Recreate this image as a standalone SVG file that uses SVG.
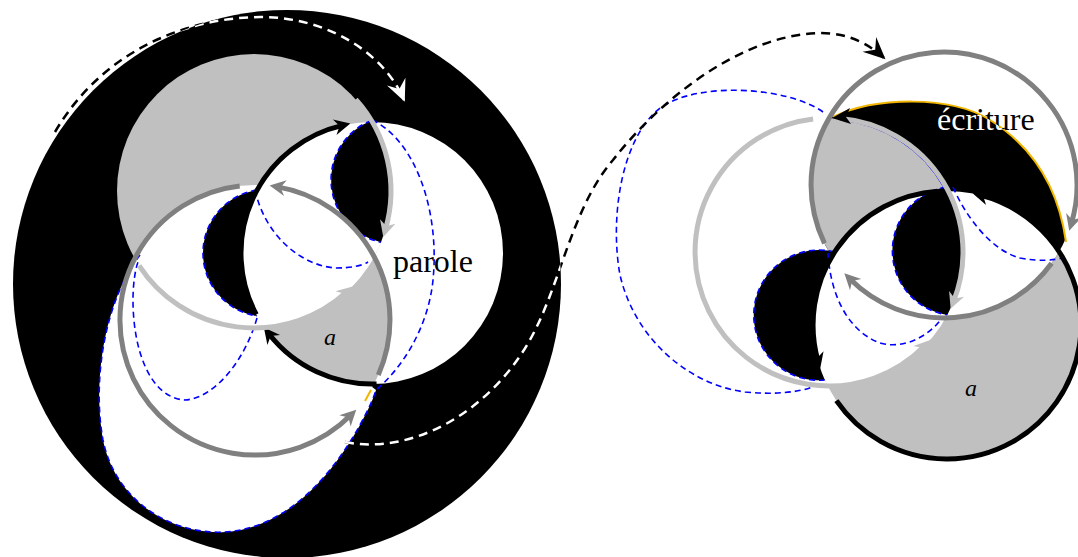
<svg xmlns="http://www.w3.org/2000/svg" width="1078" height="557" viewBox="0 0 1078 557">
<defs>
<style>
.k{fill:none;stroke:#000;stroke-width:5}
.g{fill:none;stroke:#808080;stroke-width:5}
.lg{fill:none;stroke:#c0c0c0;stroke-width:5}
.bd{fill:none;stroke:#0000ff;stroke-width:1.6;stroke-dasharray:6 4}
.dk{fill:none;stroke:#000;stroke-width:2.5;stroke-dasharray:9 6}
.dw{fill:none;stroke:#fff;stroke-width:2.5;stroke-dasharray:9 6}
.lbl{font-family:"Liberation Serif","Times New Roman",serif;font-size:32px}
.it{font-family:"Liberation Serif","Times New Roman",serif;font-size:24px;font-style:italic}
</style>
<clipPath id="cDisc"><circle cx="287" cy="284" r="274"/></clipPath>
<clipPath id="cC1"><circle cx="372" cy="253" r="131"/></clipPath>
<clipPath id="cC2"><circle cx="254" cy="191" r="137"/></clipPath>
<clipPath id="cC4"><circle cx="944" cy="185" r="133"/></clipPath>
<clipPath id="cC5"><circle cx="947" cy="325" r="134"/></clipPath>
<clipPath id="cEcr"><path d="M 833 117 C 875 97, 950 95, 990 120 C 1030 145, 1058 185, 1066 242 L 1085 260 L 1085 430 L 690 430 L 690 117 Z"/></clipPath>
<marker id="ak" viewBox="-17 -9 18 18" refX="-8" refY="0" markerWidth="18" markerHeight="18" orient="auto" markerUnits="userSpaceOnUse"><path d="M0,0 L-16,-8 L-11,0 L-16,8 Z" fill="#000"/></marker>
<marker id="ag" viewBox="-17 -9 18 18" refX="-8" refY="0" markerWidth="18" markerHeight="18" orient="auto" markerUnits="userSpaceOnUse"><path d="M0,0 L-16,-8 L-11,0 L-16,8 Z" fill="#808080"/></marker>
<marker id="alg" viewBox="-17 -9 18 18" refX="-8" refY="0" markerWidth="18" markerHeight="18" orient="auto" markerUnits="userSpaceOnUse"><path d="M0,0 L-16,-8 L-11,0 L-16,8 Z" fill="#c0c0c0"/></marker>
<marker id="dak" viewBox="-24 -12 25 24" refX="-2" refY="0" markerWidth="25" markerHeight="24" orient="auto" markerUnits="userSpaceOnUse"><path d="M0,0 L-22,-10 L-14,0 L-22,10 Z" fill="#000"/></marker>
<marker id="daw" viewBox="-24 -12 25 24" refX="-2" refY="0" markerWidth="25" markerHeight="24" orient="auto" markerUnits="userSpaceOnUse"><path d="M0,0 L-22,-10 L-14,0 L-22,10 Z" fill="#fff"/></marker>
</defs>
<rect width="1078" height="557" fill="#fff"/>

<g id="left-knot">
 <g id="left-fills">
  <circle cx="287" cy="284" r="274" fill="#000"/>
  <path d="M 140 255 C 105 300, 92 380, 103 440 C 115 500, 170 535, 225 532 C 290 528, 335 470, 360 425 C 368 410, 373 400, 376 390 L 300 330 Z" fill="#fff"/>
  <circle cx="372" cy="253" r="131" fill="#fff"/>
  <circle cx="255" cy="320" r="135" fill="#fff"/>
  <circle cx="255" cy="320" r="135" fill="#c0c0c0" clip-path="url(#cC1)"/>
  <circle cx="254" cy="191" r="137" fill="#c0c0c0"/>
  <g clip-path="url(#cC2)">
   <circle cx="372" cy="253" r="131" fill="#fff"/>
   <circle cx="255" cy="320" r="135" fill="#fff"/>
  </g>
  <path d="M 371.4 120.4 A 64 64 0 0 0 381 242.3 A 137 137 0 0 0 371.4 120.4 Z" fill="#000"/>
  <path d="M 257 190 A 63.75 63.75 0 0 0 257 316 A 131 131 0 0 1 257 190 Z" fill="#000"/>
  <path d="M 365 401 L 371 390" fill="none" stroke="#f2b600" stroke-width="2"/>
 </g>
 <g id="left-dual">
  <path class="bd" d="M 372 120 C 415 140, 440 210, 433 280 C 428 330, 400 370, 376 390 C 373 400, 368 410, 360 425 C 335 470, 290 528, 225 532 C 170 535, 115 500, 103 440 C 92 380, 105 300, 140 255"/>
  <path class="bd" d="M 257 318 C 245 360, 215 398, 185 400 C 150 398, 133 350, 133 300 C 133 285, 135 270, 138 262"/>
  <path class="bd" d="M 255 190 C 265 235, 300 265, 335 268 C 350 268, 362 266, 368 262"/>
  <path class="bd" d="M 371.4 120.4 A 64 64 0 0 0 381 242.3"/>
  <path class="bd" d="M 257 190 A 63.75 63.75 0 0 0 257 316"/>
 </g>
 <g id="ring-parole">
  <path class="k" d="M 376.6 383.9 A 131 131 0 0 1 268.8 333.7" marker-end="url(#ak)"/>
  <path class="k" d="M 256.3 314.5 A 131 131 0 0 1 342.5 125.4" marker-end="url(#ak)"/>
 </g>
 <g id="ring-light">
  <path class="lg" d="M 139.1 265.6 A 137 137 0 0 0 346.7 291.8" marker-end="url(#alg)"/>
  <path class="lg" d="M 355.8 99.3 A 137 137 0 0 1 385.5 229.2" marker-end="url(#alg)"/>
 </g>
 <g id="ring-mid">
  <path class="g" d="M 239.7 185.9 A 135 135 0 1 0 350.6 415.3" marker-end="url(#ag)"/>
  <path class="g" d="M 378.3 374.9 A 135 135 0 0 0 277.5 186.9" marker-end="url(#ag)"/>
 </g>
 <g id="label-parole"><text class="lbl" x="393" y="272">parole</text></g>
 <g id="label-a-left"><text class="it" x="324" y="345">a</text></g>
</g>

<g id="right-knot">
 <g id="right-fills">
  <circle cx="947" cy="325" r="134" fill="#c0c0c0"/>
  <g clip-path="url(#cC4)"><rect x="690" y="40" width="400" height="400" fill="#000" clip-path="url(#cEcr)"/></g>
  <circle cx="829" cy="252" r="134" fill="#c0c0c0" clip-path="url(#cC4)"/>
  <circle cx="947" cy="325" r="134" fill="#fff" clip-path="url(#cC4)"/>
  <circle cx="829" cy="252" r="134" fill="#fff" clip-path="url(#cC5)"/>
  <path d="M 946.2 187 A 64.8 64.8 0 0 0 947.3 314.9 A 134 134 0 0 0 946.2 187 Z" fill="#000"/>
  <path d="M 834.6 252 A 65.1 65.1 0 1 0 824.8 380 A 134 134 0 0 1 834.6 252 Z" fill="#000"/>
  <path d="M 833 117 C 875 97, 950 95, 990 120 C 1030 145, 1058 185, 1066 242" fill="none" stroke="#f2b600" stroke-width="2"/>
 </g>
 <g id="right-dual">
  <path class="bd" d="M 823 112 C 790 88, 700 80, 660 108 C 620 140, 610 220, 620 275 C 635 340, 690 385, 745 392 C 775 395, 800 392, 812 387"/>
  <path class="bd" d="M 946.2 187 A 64.8 64.8 0 0 0 947.3 314.9"/>
  <path class="bd" d="M 834.6 252 A 65.1 65.1 0 1 0 824.8 380"/>
  <path class="bd" d="M 953 187 C 965 215, 990 250, 1020 258 C 1040 262, 1055 260, 1062 258"/>
  <path class="bd" d="M 828 253 C 830 290, 845 330, 880 343 C 905 350, 930 335, 942 318"/>
  <path d="M 840 120 A 134 134 0 0 1 944 188" fill="none" stroke="#0000ff" stroke-width="0.8"/>
 </g>
 <g id="ring-ecriture">
  <path class="g" d="M 824.5 243.3 A 133 133 0 1 1 1071.5 223" marker-end="url(#ag)"/>
  <path class="g" d="M 1051.6 263.2 A 133 133 0 0 1 850 279" marker-end="url(#ag)"/>
 </g>
 <g id="ring-black">
  <path class="k" d="M 937.6 191.3 A 134 134 0 0 0 818 361" marker-end="url(#ak)"/>
  <path class="k" d="M 836.4 400.7 A 134 134 0 1 0 980.3 195.2" marker-end="url(#ak)"/>
 </g>
 <g id="ring-light-r">
  <path class="lg" d="M 813.1 118.9 A 134 134 0 1 0 924.7 345.8" marker-end="url(#alg)"/>
  <path class="lg" d="M 840.7 118.5 A 134 134 0 0 1 953.6 301.3" marker-end="url(#alg)"/>
  <path d="M 832 118 L 850 108 L 846 117 L 851 124 Z" fill="#000"/>
 </g>
 <g id="label-ecriture">
  <text class="lbl" x="937" y="130" fill="#000">écriture</text>
  <g clip-path="url(#cEcr)"><text class="lbl" x="937" y="130" fill="#fff">écriture</text></g>
 </g>
 <g id="label-a-right"><text class="it" x="965" y="396">a</text></g>
</g>

<g id="connectors">
 <path class="dk" d="M 55 132 C 100 55, 180 18, 260 17 C 330 17, 385 55, 404 100" marker-end="url(#dak)"/>
 <path class="dw" d="M 55 132 C 100 55, 180 18, 260 17 C 330 17, 385 55, 404 100" marker-end="url(#daw)" clip-path="url(#cDisc)"/>
 <path class="dk" d="M 345 442 C 410 455, 485 415, 527 345 C 560 290, 570 210, 613 160 C 660 100, 740 35, 820 33 C 850 33, 870 45, 884 58" marker-end="url(#dak)"/>
 <path class="dw" d="M 345 442 C 410 455, 485 415, 527 345 C 560 290, 570 210, 613 160 C 660 100, 740 35, 820 33 C 850 33, 870 45, 884 58" marker-end="url(#daw)" clip-path="url(#cDisc)"/>
</g>
</svg>
